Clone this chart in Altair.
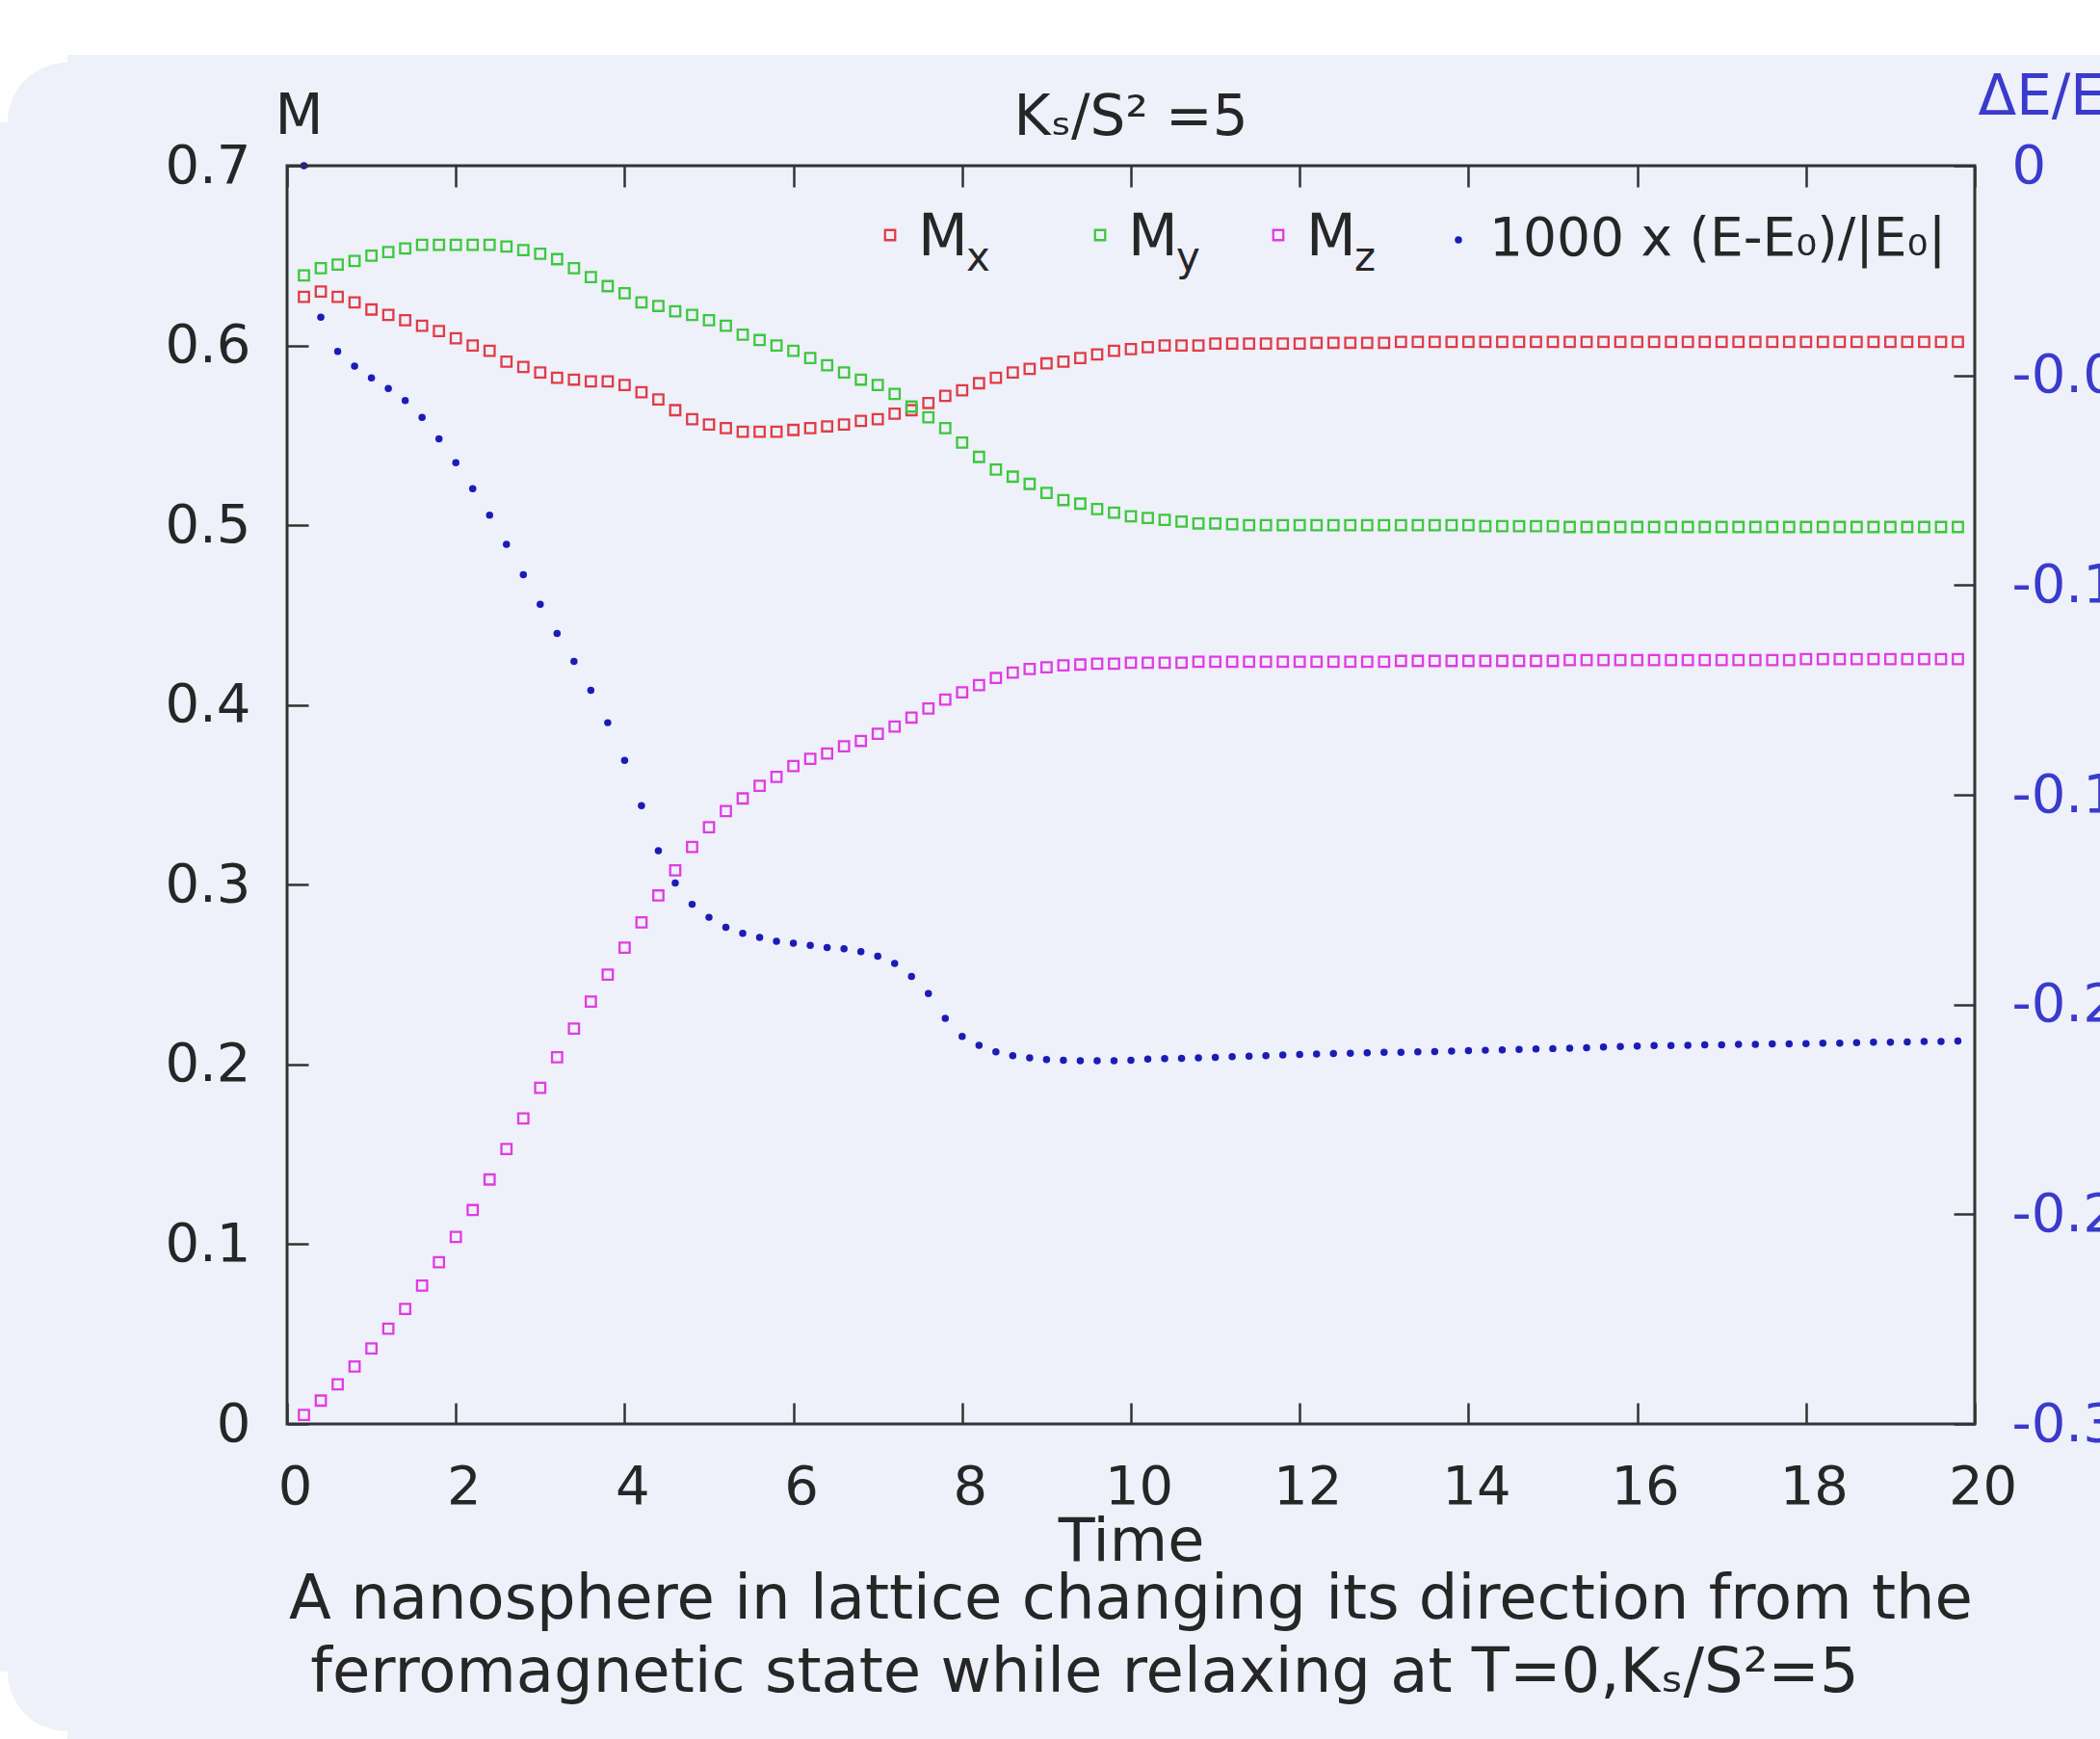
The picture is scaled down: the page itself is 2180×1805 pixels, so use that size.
import altair as alt
import pandas as pd

# ---------------- data ----------------
time = [0.2, 0.4, 0.6, 0.8, 1.0, 1.2, 1.4, 1.6, 1.8, 2.0,
        2.2, 2.4, 2.6, 2.8, 3.0, 3.2, 3.4, 3.6, 3.8, 4.0,
        4.2, 4.4, 4.6, 4.8, 5.0, 5.2, 5.4, 5.6, 5.8, 6.0,
        6.2, 6.4, 6.6, 6.8, 7.0, 7.2, 7.4, 7.6, 7.8, 8.0,
        8.2, 8.4, 8.6, 8.8, 9.0, 9.2, 9.4, 9.6, 9.8, 10.0,
        10.2, 10.4, 10.6, 10.8, 11.0, 11.2, 11.4, 11.6, 11.8, 12.0,
        12.2, 12.4, 12.6, 12.8, 13.0, 13.2, 13.4, 13.6, 13.8, 14.0,
        14.2, 14.4, 14.6, 14.8, 15.0, 15.2, 15.4, 15.6, 15.8, 16.0,
        16.2, 16.4, 16.6, 16.8, 17.0, 17.2, 17.4, 17.6, 17.8, 18.0,
        18.2, 18.4, 18.6, 18.8, 19.0, 19.2, 19.4, 19.6, 19.8]

mx = [0.627, 0.630, 0.627, 0.624, 0.620, 0.617, 0.614, 0.611, 0.608, 0.604,
      0.600, 0.597, 0.591, 0.588, 0.585, 0.582, 0.581, 0.580, 0.580, 0.578,
      0.574, 0.570, 0.564, 0.559, 0.556, 0.554, 0.552, 0.552, 0.552, 0.553,
      0.554, 0.555, 0.556, 0.558, 0.559, 0.562, 0.564, 0.568, 0.572, 0.575,
      0.579, 0.582, 0.585, 0.587, 0.590, 0.591, 0.593, 0.595, 0.597, 0.598,
      0.599, 0.600, 0.600, 0.600, 0.601, 0.601, 0.601, 0.601, 0.601, 0.601,
      0.6015, 0.6015, 0.6015, 0.6015, 0.6015, 0.602, 0.602, 0.602, 0.602, 0.602,
      0.602, 0.602, 0.602, 0.602, 0.602, 0.602, 0.602, 0.602, 0.602, 0.602,
      0.602, 0.602, 0.602, 0.602, 0.602, 0.602, 0.602, 0.602, 0.602, 0.602,
      0.602, 0.602, 0.602, 0.602, 0.602, 0.602, 0.602, 0.602, 0.602]

my = [0.639, 0.643, 0.645, 0.647, 0.650, 0.652, 0.654, 0.656, 0.656, 0.656,
      0.656, 0.656, 0.655, 0.653, 0.651, 0.648, 0.643, 0.638, 0.633, 0.629,
      0.624, 0.622, 0.619, 0.617, 0.614, 0.611, 0.606, 0.603, 0.600, 0.597,
      0.593, 0.589, 0.585, 0.581, 0.578, 0.573, 0.566, 0.560, 0.554, 0.546,
      0.538, 0.531, 0.527, 0.523, 0.518, 0.514, 0.512, 0.509, 0.507, 0.505,
      0.504, 0.503, 0.502, 0.501, 0.501, 0.5005, 0.500, 0.500, 0.500, 0.500,
      0.500, 0.500, 0.500, 0.500, 0.500, 0.500, 0.500, 0.500, 0.500, 0.500,
      0.4995, 0.4995, 0.4995, 0.4995, 0.4995, 0.499, 0.499, 0.499, 0.499, 0.499,
      0.499, 0.499, 0.499, 0.499, 0.499, 0.499, 0.499, 0.499, 0.499, 0.499,
      0.499, 0.499, 0.499, 0.499, 0.499, 0.499, 0.499, 0.499, 0.499]

mz = [0.005, 0.013, 0.022, 0.032, 0.042, 0.053, 0.064, 0.077, 0.090, 0.104,
      0.119, 0.136, 0.153, 0.170, 0.187, 0.204, 0.220, 0.235, 0.250, 0.265,
      0.279, 0.294, 0.308, 0.321, 0.332, 0.341, 0.348, 0.355, 0.360, 0.366,
      0.370, 0.373, 0.377, 0.380, 0.384, 0.388, 0.393, 0.398, 0.403, 0.407,
      0.411, 0.415, 0.418, 0.420, 0.421, 0.422, 0.4225, 0.423, 0.423, 0.4235,
      0.4235, 0.4235, 0.4235, 0.424, 0.424, 0.424, 0.424, 0.424, 0.424, 0.424,
      0.424, 0.424, 0.424, 0.424, 0.424, 0.4245, 0.4245, 0.4245, 0.4245, 0.4245,
      0.4245, 0.4245, 0.4245, 0.4245, 0.4245, 0.425, 0.425, 0.425, 0.425, 0.425,
      0.425, 0.425, 0.425, 0.425, 0.425, 0.425, 0.425, 0.425, 0.425, 0.4255,
      0.4255, 0.4255, 0.4255, 0.4255, 0.4255, 0.4255, 0.4255, 0.4255, 0.4255]

energy = [0.0, -0.0361, -0.0443, -0.0478, -0.0506, -0.0531, -0.0560, -0.0600, -0.0651, -0.0708,
          -0.0770, -0.0833, -0.0903, -0.0975, -0.1046, -0.1115, -0.1182, -0.1251, -0.1328, -0.1418,
          -0.1526, -0.1633, -0.1710, -0.1761, -0.1792, -0.1816, -0.1830, -0.1840, -0.1849, -0.1854,
          -0.1859, -0.1864, -0.1867, -0.1874, -0.1885, -0.1902, -0.1933, -0.1974, -0.2033, -0.2076,
          -0.2097, -0.2113, -0.2122, -0.2127, -0.2131, -0.2133, -0.2134, -0.2134, -0.2134, -0.2133,
          -0.2130, -0.2129, -0.2128, -0.2127, -0.2126, -0.2124, -0.2123, -0.2122, -0.2120, -0.2119,
          -0.2118, -0.2117, -0.2116, -0.2115, -0.2114, -0.2114, -0.2113, -0.2112, -0.2111, -0.2110,
          -0.2109, -0.2108, -0.2107, -0.2106, -0.2105, -0.2104, -0.2103, -0.2101, -0.2100, -0.2099,
          -0.2098, -0.2098, -0.2097, -0.2096, -0.2096, -0.2095, -0.2095, -0.2094, -0.2094, -0.2093,
          -0.2092, -0.2092, -0.2091, -0.2090, -0.2090, -0.2089, -0.2088, -0.2088, -0.2087]

series_names = ["Mx", "My", "Mz"]
x_ticks = [0, 2, 4, 6, 8, 10, 12, 14, 16, 18, 20]
m_ticks = [0, 0.1, 0.2, 0.3, 0.4, 0.5, 0.6, 0.7]
e_ticks = [0, -0.05, -0.1, -0.15, -0.2, -0.25, -0.3]

title_text = "K\u209b/S\u00b2 =5"
x_title = "Time"
caption_1 = "A nanosphere in lattice changing its direction from the"
caption_2 = "ferromagnetic state while relaxing at T=0,K\u209b/S\u00b2=5"
legend_main = ["M", "M", "M"]
legend_sub = ["x", "y", "z"]
energy_label = "1000 x (E-E\u2080)/|E\u2080|"

# ---------------- styling / layout ----------------
W, H = 1752, 1306
RED, GREEN, MAGENTA = "#e03c46", "#3cc83c", "#e03ce0"
DOT = "#1c1cb4"
AXBLUE = "#3a3acc"
TXT = "#262626"
PANEL = "#eef0fa"
LINE = "#333333"

rows = []
for name, vals in zip(series_names, [mx, my, mz]):
    for t, v in zip(time, vals):
        rows.append({"t": t, "M": v, "series": name})
df_m = pd.DataFrame(rows)
df_e = pd.DataFrame({"t": time, "E": energy})
one = pd.DataFrame({"k": [0]})

x_scale = alt.Scale(domain=[0, 20], nice=False, zero=False)

x_axis = alt.Axis(
    values=x_ticks, title=x_title, grid=True, gridDash=[22, H - 44, 22, 0],
    gridColor=LINE, gridWidth=2.5, gridOpacity=1, ticks=False, tickSize=0,
    domain=False, labelFontSize=56, labelColor=TXT, labelPadding=82,
    labelBaseline="alphabetic", labelOffset=8, labelFlush=False, labelOverlap=False,
    titleFontSize=62, titleFontWeight="normal", titleColor=TXT, titleX=W / 2,
    titleY=141, titleBaseline="alphabetic", titleAlign="center", zindex=1)

left_axis = alt.Axis(
    orient="left", values=m_ticks,
    labelExpr="datum.value == 0 ? '0' : format(datum.value, '.1f')",
    title="M", titleAngle=0, titleX=-13, titleY=-34, titleAlign="left",
    titleBaseline="alphabetic", titleFontSize=58, titleFontWeight="normal",
    titleColor=TXT, grid=True, gridDash=[22, 4000], gridColor=LINE,
    gridWidth=2.5, gridOpacity=1, ticks=False, tickSize=0, domain=False,
    labelFontSize=56, labelColor=TXT, labelPadding=38, labelFlush=False,
    labelOverlap=False, zindex=1)

right_axis = alt.Axis(
    orient="right", values=e_ticks,
    labelExpr="datum.value == 0 ? '\u00a00' : '-' + format(-datum.value, '~g')",
    labelColor=AXBLUE, labelFontSize=56, labelPadding=38, labelAlign="left",
    labelFlush=False, labelOverlap=False,
    title="\u0394E/E\u2080", titleColor=AXBLUE, titleAngle=0, titleAlign="left",
    titleX=3, titleY=-54, titleBaseline="alphabetic", titleFontSize=58,
    titleFontWeight="normal", grid=True, gridDash=[22, 4000], gridColor=LINE,
    gridWidth=2.5, gridOpacity=1, ticks=False, tickSize=0, domain=False, zindex=1)

squares = alt.Chart(df_m).mark_point(
    shape="square", filled=False, size=110, strokeWidth=2.3, opacity=1
).encode(
    x=alt.X("t:Q", scale=x_scale, axis=x_axis),
    y=alt.Y("M:Q", scale=alt.Scale(domain=[0, 0.7], nice=False, zero=False), axis=left_axis),
    color=alt.Color("series:N", scale=alt.Scale(domain=series_names, range=[RED, GREEN, MAGENTA]),
                    legend=None),
)

dots = alt.Chart(df_e).mark_circle(size=56, opacity=1, color=DOT).encode(
    x=alt.X("t:Q", scale=x_scale, axis=x_axis),
    y=alt.Y("E:Q", scale=alt.Scale(domain=[-0.3, 0], nice=False, zero=False), axis=right_axis),
)

# ---------------- decorations (panel, title, caption, legend) ----------------
deco = []
# white strip above the rounded panel and its rounded corners
deco.append(alt.Chart(one).mark_rect(color="white").encode(
    x=alt.value(-300), x2=alt.value(W + 200), y=alt.value(-172), y2=alt.value(-115)))
deco.append(alt.Chart(one).mark_rect(color="white").encode(
    x=alt.value(-300), x2=alt.value(-228), y=alt.value(-115), y2=alt.value(-45)))
deco.append(alt.Chart(one).mark_circle(color=PANEL, opacity=1, size=15394).encode(
    x=alt.value(-228), y=alt.value(-45)))
deco.append(alt.Chart(one).mark_rect(color="white").encode(
    x=alt.value(-300), x2=alt.value(-228), y=alt.value(1563), y2=alt.value(1640)))
deco.append(alt.Chart(one).mark_circle(color=PANEL, opacity=1, size=15394).encode(
    x=alt.value(-228), y=alt.value(1563)))

# title
deco.append(alt.Chart(one).mark_text(
    text=title_text, fontSize=58, align="center", baseline="alphabetic", color=TXT
).encode(x=alt.value(W / 2), y=alt.value(-32)))

# caption below the x-axis title
deco.append(alt.Chart(one).mark_text(
    text=caption_1, fontSize=64, align="center", baseline="alphabetic", color=TXT
).encode(x=alt.value(W / 2), y=alt.value(1508)))
deco.append(alt.Chart(one).mark_text(
    text=caption_2, fontSize=64, align="center", baseline="alphabetic", color=TXT
).encode(x=alt.value(828), y=alt.value(1584)))

# legend
sym_x = [626, 844, 1029]
for i, (col, main, sub) in enumerate(zip([RED, GREEN, MAGENTA], legend_main, legend_sub)):
    sx = sym_x[i]
    deco.append(alt.Chart(one).mark_point(
        shape="square", filled=False, size=110, strokeWidth=2.3, opacity=1, color=col
    ).encode(x=alt.value(sx), y=alt.value(72)))
    deco.append(alt.Chart(one).mark_text(
        text=main, fontSize=60, align="left", baseline="alphabetic", color=TXT
    ).encode(x=alt.value(sx + 29), y=alt.value(93)))
    deco.append(alt.Chart(one).mark_text(
        text=sub, fontSize=42, align="left", baseline="alphabetic", color=TXT
    ).encode(x=alt.value(sx + 79), y=alt.value(109)))

deco.append(alt.Chart(one).mark_circle(size=56, opacity=1, color=DOT).encode(
    x=alt.value(1216), y=alt.value(77)))
deco.append(alt.Chart(one).mark_text(
    text=energy_label, fontSize=55, align="left", baseline="alphabetic", color=TXT
).encode(x=alt.value(1248), y=alt.value(93)))

chart = alt.layer(*deco, squares, dots).resolve_scale(y="independent").properties(
    width=W, height=H,
    autosize=alt.AutoSizeParams(type="none"),
    padding={"left": 298, "top": 172, "right": 2180 - 298 - W, "bottom": 1805 - 172 - H},
).configure(
    background=PANEL, font="DejaVu Sans"
).configure_view(
    stroke=LINE, strokeWidth=3
)

chart.save("out.html", embed_options={"renderer": "svg", "actions": False})
